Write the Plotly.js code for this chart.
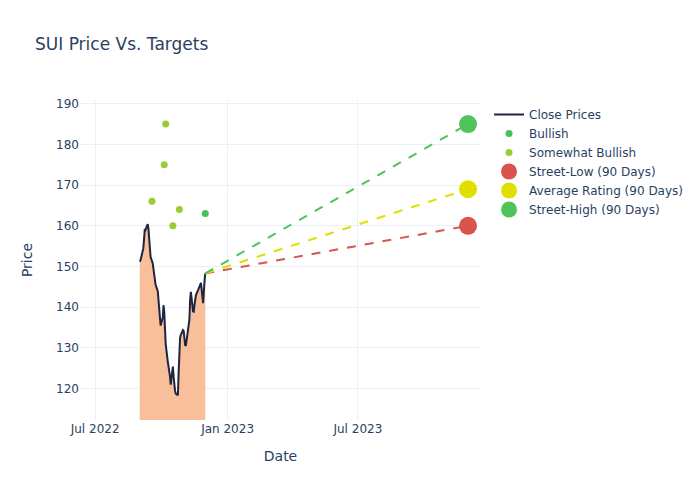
<!DOCTYPE html>
<html>
<head>
<meta charset="utf-8">
<script src="https://cdn.plot.ly/plotly-3.0.1.min.js"></script>
<style>html,body{margin:0;padding:0;background:#fff;}#chart{width:700px;height:500px;}</style>
</head>
<body>
<div id="chart"></div>
<script>
// Close prices
const closeDates = [
 '2022-09-01','2022-09-02','2022-09-06','2022-09-07','2022-09-08','2022-09-09',
 '2022-09-12','2022-09-13','2022-09-14','2022-09-15','2022-09-16',
 '2022-09-19','2022-09-20','2022-09-21','2022-09-22','2022-09-23',
 '2022-09-26','2022-09-27','2022-09-28','2022-09-29','2022-09-30',
 '2022-10-03','2022-10-04','2022-10-05','2022-10-06','2022-10-07',
 '2022-10-10','2022-10-11','2022-10-12','2022-10-13','2022-10-14',
 '2022-10-17','2022-10-18','2022-10-19','2022-10-20','2022-10-21',
 '2022-10-24','2022-10-25','2022-10-26','2022-10-27','2022-10-28',
 '2022-10-31','2022-11-01','2022-11-02','2022-11-03','2022-11-04',
 '2022-11-07','2022-11-08','2022-11-09','2022-11-10','2022-11-11',
 '2022-11-14','2022-11-15','2022-11-16','2022-11-17','2022-11-18',
 '2022-11-21','2022-11-22','2022-11-23','2022-11-25',
 '2022-11-28','2022-11-29','2022-11-30','2022-12-01'
];
const closePrices = [
 151.2,151.5,154.5,158.5,159.2,159.0,
 160.4,159.5,157.0,153.0,152.4,
 150.8,149.5,148.0,146.5,145.5,
 144.0,141.5,139.5,137.5,135.5,
 137.5,140.5,139.0,135.5,131.0,
 126.6,125.5,125.0,123.0,121.0,
 125.4,123.0,120.1,119.5,118.8,
 118.4,124.0,131.5,132.5,133.2,
 134.4,134.2,132.0,130.7,130.5,
 134.0,135.0,137.0,142.0,143.8,
 139.0,138.9,140.5,142.0,143.0,
 144.2,144.8,145.3,146.0,
 141.0,145.0,146.5,148.3
];

// Analyst ratings
const bullishDates = ['2022-12-01'];
const bullishValues = [163];
const somewhatDates = ['2022-09-18','2022-10-05','2022-10-07','2022-10-17','2022-10-26'];
const somewhatValues = [166,175,185,160,164];

// Targets (90 days)
const targetStartDate = '2022-12-01';
const targetEndDate = '2023-12-01';
const lastClose = 148.3;
const streetLow = 160;
const averageRating = 169;
const streetHigh = 185;

const cLow = '#D9534F', cAvg = '#E0E000', cHigh = '#50C35A';

const traces = [
 {x: closeDates, y: closePrices, type:'scatter', mode:'none', showlegend:false, hoverinfo:'skip',
  fill:'tozeroy', fillcolor:'#F9BF9B'},
 {x: closeDates, y: closePrices, type:'scatter', mode:'lines', name:'Close Prices',
  line:{color:'#1f2540', width:2}},
 {x: bullishDates, y: bullishValues, type:'scatter', mode:'markers', name:'Bullish',
  marker:{color:'#4CC157', size:7}},
 {x: somewhatDates, y: somewhatValues, type:'scatter', mode:'markers', name:'Somewhat Bullish',
  marker:{color:'#9ACD32', size:7}},
 {x:[targetStartDate,targetEndDate], y:[lastClose,streetLow], type:'scatter', mode:'lines',
  line:{color:cLow, dash:'dash', width:2}, showlegend:false, hoverinfo:'skip'},
 {x:[targetStartDate,targetEndDate], y:[lastClose,averageRating], type:'scatter', mode:'lines',
  line:{color:cAvg, dash:'dash', width:2}, showlegend:false, hoverinfo:'skip'},
 {x:[targetStartDate,targetEndDate], y:[lastClose,streetHigh], type:'scatter', mode:'lines',
  line:{color:cHigh, dash:'dash', width:2}, showlegend:false, hoverinfo:'skip'},
 {x:[targetEndDate], y:[streetLow], type:'scatter', mode:'markers', name:'Street-Low (90 Days)',
  marker:{color:cLow, size:18}},
 {x:[targetEndDate], y:[averageRating], type:'scatter', mode:'markers', name:'Average Rating (90 Days)',
  marker:{color:cAvg, size:18}},
 {x:[targetEndDate], y:[streetHigh], type:'scatter', mode:'markers', name:'Street-High (90 Days)',
  marker:{color:cHigh, size:18}}
];

const layout = {
 width:700, height:500,
 font:{family:'"DejaVu Sans", sans-serif', color:'#2a3f5f', size:12},
 title:{text:'SUI Price Vs. Targets', x:0.05, font:{size:17, color:'#2a3f5f'}},
 paper_bgcolor:'#fff', plot_bgcolor:'#fff',
 margin:{l:80, r:20, t:100, b:80},
 xaxis:{title:{text:'Date', standoff:16}, type:'date', range:['2022-06-10','2023-12-19'],
  gridcolor:'#EBF0F8', zeroline:false, tickvals:['2022-07-01','2023-01-01','2023-07-01'],
  ticktext:['Jul 2022','Jan 2023','Jul 2023']},
 yaxis:{title:{text:'Price', standoff:20}, range:[112.3,190.9], gridcolor:'#EBF0F8', zeroline:false,
  dtick:10},
 legend:{x:1.02, y:1, xanchor:'left', yanchor:'top', font:{size:12}},
 showlegend:true
};

Plotly.newPlot('chart', traces, layout, {displayModeBar:false, staticPlot:true});
</script>
</body>
</html>
